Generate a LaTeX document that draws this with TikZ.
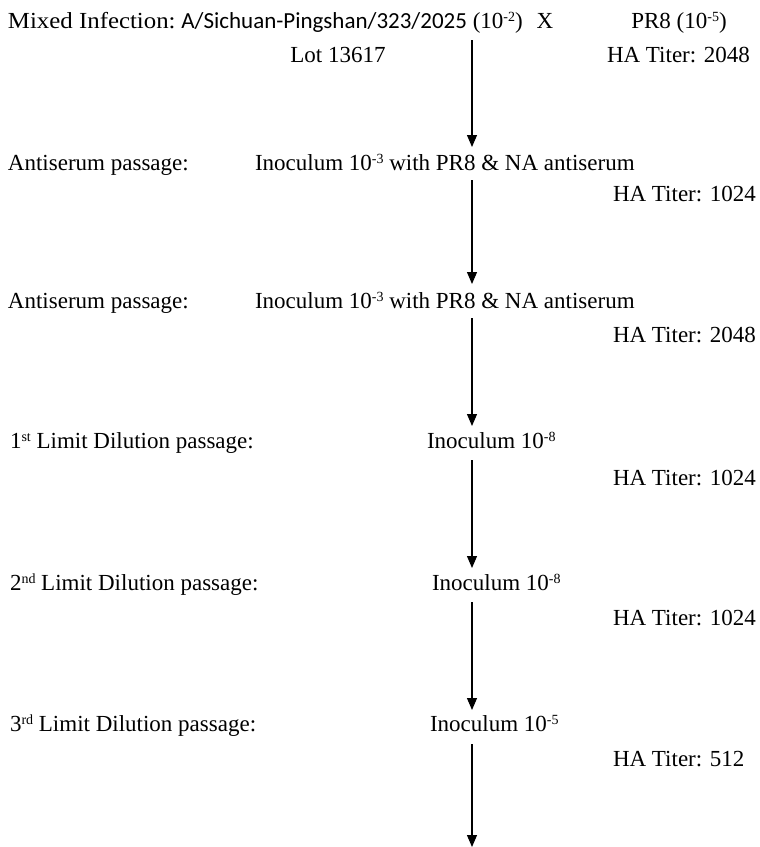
\documentclass[tikz,border=0pt]{standalone}
\usepackage{fontspec}
\usepackage{graphicx}
\setmainfont{Liberation Serif}
\newfontfamily\calib{Carlito}
\usetikzlibrary{arrows.meta}
\newcommand{\supx}[1]{\raisebox{6.5pt}{\fontsize{14}{14}\selectfont #1}}
\tikzset{
  txt/.style={inner sep=0pt, outer sep=0pt, font=\fontsize{23}{27}\selectfont},
  flow/.style={line width=1.1pt, -{Triangle[length=12pt,width=10pt]}}
}
\begin{document}
\begin{tikzpicture}[x=1pt,y=-1pt]
\useasboundingbox (0,0) rectangle (760,847);
% top row
\node[txt, anchor=base west] (mix) at (8,28) {\scalebox{1.08}[1]{Mixed Infection:} {\calib A/Sichuan-Pingshan/323/2025} (10\supx{-2})};
\node[txt, anchor=base] (x) at (545,28) {X};
\node[txt, anchor=base] (pr8) at (679,28) {PR8 (10\supx{-5})};
\node[txt, anchor=base] (lot) at (338,62) {Lot 13617};
\node[txt, anchor=base west] (ha0) at (607,62) {HA Titer: 2048};
% row 2
\node[txt, anchor=base west] (l2) at (8,170) {Antiserum passage:};
\node[txt, anchor=base west] (i2) at (255,170) {Inoculum 10\supx{-3} with PR8 \& NA antiserum};
\node[txt, anchor=base west] (ha2) at (613,201) {HA Titer: 1024};
% row 3
\node[txt, anchor=base west] (l3) at (8,308) {Antiserum passage:};
\node[txt, anchor=base west] (i3) at (255,308) {Inoculum 10\supx{-3} with PR8 \& NA antiserum};
\node[txt, anchor=base west] (ha3) at (613,342) {HA Titer: 2048};
% row 4
\node[txt, anchor=base west] (l4) at (10,448) {1\supx{st} Limit Dilution passage:};
\node[txt, anchor=base west] (i4) at (427,448) {Inoculum 10\supx{-8}};
\node[txt, anchor=base west] (ha4) at (613,485) {HA Titer: 1024};
% row 5
\node[txt, anchor=base west] (l5) at (10,590) {2\supx{nd} Limit Dilution passage:};
\node[txt, anchor=base west] (i5) at (432,590) {Inoculum 10\supx{-8}};
\node[txt, anchor=base west] (ha5) at (613,625) {HA Titer: 1024};
% row 6
\node[txt, anchor=base west] (l6) at (10,731) {3\supx{rd} Limit Dilution passage:};
\node[txt, anchor=base west] (i6) at (430,731) {Inoculum 10\supx{-5}};
\node[txt, anchor=base west] (ha6) at (613,766) {HA Titer: 512};
% arrow endpoints
\coordinate (s1) at (472,40);  \coordinate (e1) at (472,147);
\coordinate (s2) at (472,180); \coordinate (e2) at (472,284);
\coordinate (s3) at (472,318); \coordinate (e3) at (472,426);
\coordinate (s4) at (472,460); \coordinate (e4) at (472,568);
\coordinate (s5) at (472,602); \coordinate (e5) at (472,710);
\coordinate (s6) at (472,744); \coordinate (e6) at (472,847);
\foreach \k in {1,...,6} { \draw[flow] (s\k) -- (e\k); }
\end{tikzpicture}
\end{document}
